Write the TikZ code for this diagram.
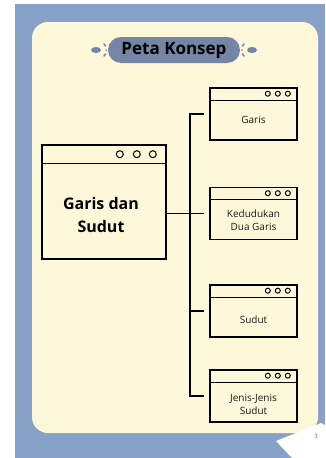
\documentclass[tikz,border=0pt]{standalone}
\usepackage{fontspec}
\setmainfont{Open Sans}
\definecolor{bgblue}{HTML}{88A1C9}
\definecolor{cream}{HTML}{FEF8DA}
\definecolor{pill}{HTML}{7485A6}
\begin{document}
\begin{tikzpicture}[x=1pt,y=-1pt,
  win/.style={draw, line width=1.6pt, fill=cream, inner sep=0pt, minimum width=87pt, minimum height=52pt},
  bigwin/.style={win, minimum width=124pt, minimum height=114pt},
  dot/.style={draw, line width=1pt},
  conn/.style={draw, line width=1.6pt},
  small/.style={font=\fontsize{10}{13}\selectfont, align=center, text=black!90},
  big/.style={font=\fontsize{16}{23.5}\selectfont\bfseries, align=center, text=black}]
\useasboundingbox (0,0) rectangle (325,458);
\fill[white] (0,0) rectangle (325,458);
\fill[bgblue] (15,4) rectangle (325,458);
\fill[cream, rounded corners=16pt] (32,22) rectangle (318,433);
% page curl
\fill[white] (276,441) -- (321,423) -- (325,425) -- (325,458) -- (292,458) -- cycle;
\node[font=\fontsize{6}{7}\selectfont, text=black!60] (pg) at (316,436) {3};
% title
\node[fill=pill, rounded corners=13pt, minimum width=132pt, minimum height=26pt, font=\fontsize{17}{18}\selectfont\bfseries, text=black] (title) at (174,50) {Peta Konsep};
\fill[pill] (96,50) ellipse (5 and 3);
\draw[pill, line width=1.5pt, line cap=round] (104,44) -- (105.5,46) (106,50) -- (106.5,50) (104,56) -- (105.5,54);
\fill[pill] (252,50) ellipse (5 and 3);
\draw[pill, line width=1.5pt, line cap=round] (244,44) -- (242.5,46) (242,50) -- (241.5,50) (244,56) -- (242.5,54);
% main box
\node[bigwin] (main) at (104,202) {};
\draw[line width=1.4pt] ([yshift=-19pt]main.north west) -- ([yshift=-19pt]main.north east);
\foreach \dx in {14,30,47} \draw[dot] ([xshift=-\dx pt, yshift=-10pt]main.north east) circle (3.5);
\node[big] (maintext) at (101,215) {Garis dan\\Sudut};
% sub boxes
\node[win] (b1) at (253.5,114) {};
\node[win] (b2) at (253.5,213.5) {};
\node[win] (b3) at (253.5,311) {};
\node[win] (b4) at (253.5,396) {};
\foreach \b in {b1,b2,b3,b4} {
  \draw[line width=1.4pt] ([yshift=-13pt]\b.north west) -- ([yshift=-13pt]\b.north east);
  \foreach \dx in {10,20,30} \draw[dot] ([xshift=-\dx pt, yshift=-6.5pt]\b.north east) circle (2.5);
}
\node[small] (t1) at (253.5,120) {Garis};
\node[small] (t2) at (253.5,220.5) {Kedudukan\\Dua Garis};
\node[small] (t3) at (253.5,320) {Sudut};
\node[small] (t4) at (253.5,404.5) {Jenis-Jenis\\Sudut};
% connectors
\coordinate (trunkbot) at (190,396);
\coordinate (trunktop) at (190,114);
\draw[conn] (main.east |- b2.west) -- ([xshift=-5pt]b2.west);
\draw[conn] ([xshift=-5pt]b1.west) -- (trunktop) -- (trunkbot) -- ([xshift=-5pt]b4.west);
\draw[conn] (trunkbot |- b3.west) -- ([xshift=-5pt]b3.west);
\end{tikzpicture}
\end{document}
